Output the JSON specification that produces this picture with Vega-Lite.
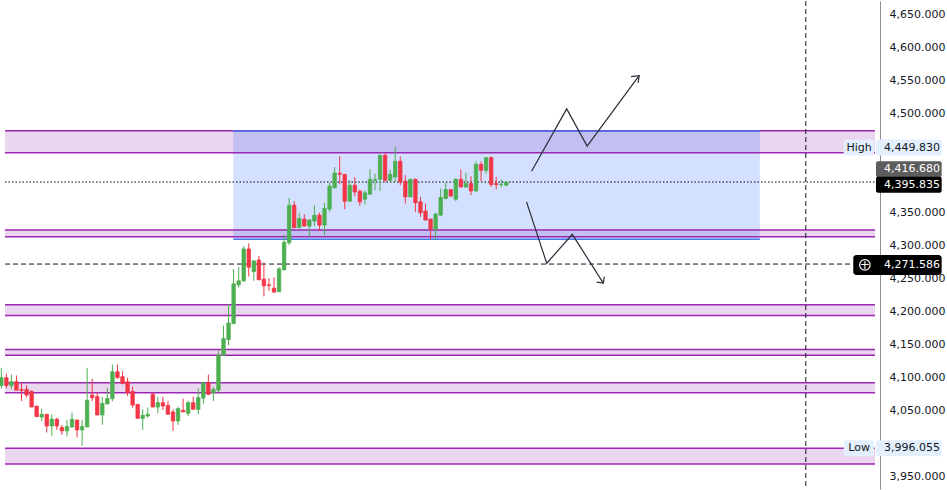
{
  "$schema": "https://vega.github.io/schema/vega-lite/v6.json",
  "width": 947,
  "height": 490,
  "autosize": {"type": "fit", "contains": "padding"},
  "padding": 0,
  "background": "#ffffff",
  "config": {"view": {"stroke": null}, "font": "DejaVu Sans", "axisX": {"disable": true}},
  "datasets": {
    "candles": [
      {"i":0,"o":4087.7,"h":4114.4,"l":4082.8,"c":4099.4},
      {"i":1,"o":4099.4,"h":4105.9,"l":4083.7,"c":4087.7},
      {"i":2,"o":4087.7,"h":4104.3,"l":4081.7,"c":4093.3},
      {"i":3,"o":4093.3,"h":4102.8,"l":4080.6,"c":4080.6},
      {"i":4,"o":4081.3,"h":4091.8,"l":4064.1,"c":4080.2},
      {"i":5,"o":4081.7,"h":4087.7,"l":4069.2,"c":4073.1},
      {"i":6,"o":4078.7,"h":4080.2,"l":4055.0,"c":4055.0},
      {"i":7,"o":4056.1,"h":4057.6,"l":4040.5,"c":4040.5},
      {"i":8,"o":4039.9,"h":4052.6,"l":4033.9,"c":4044.0},
      {"i":9,"o":4044.0,"h":4044.0,"l":4016.4,"c":4026.3},
      {"i":10,"o":4026.3,"h":4044.0,"l":4011.3,"c":4036.5},
      {"i":11,"o":4036.5,"h":4039.0,"l":4020.3,"c":4026.3},
      {"i":12,"o":4023.9,"h":4027.9,"l":4012.8,"c":4018.8},
      {"i":13,"o":4018.8,"h":4035.4,"l":4010.3,"c":4025.4},
      {"i":14,"o":4024.8,"h":4046.6,"l":4023.9,"c":4036.5},
      {"i":15,"o":4035.4,"h":4035.4,"l":4008.8,"c":4020.3},
      {"i":16,"o":4020.3,"h":4035.4,"l":3996.1,"c":4025.4},
      {"i":17,"o":4024.8,"h":4114.4,"l":4024.8,"c":4065.1},
      {"i":18,"o":4073.1,"h":4097.9,"l":4064.1,"c":4069.2},
      {"i":19,"o":4070.7,"h":4076.7,"l":4042.9,"c":4042.9},
      {"i":20,"o":4042.9,"h":4070.7,"l":4027.9,"c":4060.6},
      {"i":21,"o":4059.5,"h":4084.3,"l":4059.5,"c":4068.1},
      {"i":22,"o":4067.7,"h":4119.4,"l":4063.6,"c":4108.4},
      {"i":23,"o":4108.4,"h":4119.4,"l":4098.3,"c":4099.4},
      {"i":24,"o":4100.9,"h":4109.3,"l":4089.2,"c":4090.8},
      {"i":25,"o":4093.3,"h":4099.4,"l":4071.6,"c":4076.7},
      {"i":26,"o":4078.7,"h":4085.8,"l":4054.1,"c":4058.0},
      {"i":27,"o":4059.1,"h":4059.1,"l":4037.9,"c":4037.9},
      {"i":28,"o":4037.9,"h":4051.5,"l":4020.3,"c":4042.5},
      {"i":29,"o":4041.4,"h":4054.1,"l":4039.0,"c":4044.0},
      {"i":30,"o":4074.2,"h":4076.7,"l":4055.0,"c":4055.0},
      {"i":31,"o":4055.0,"h":4070.7,"l":4045.5,"c":4061.6},
      {"i":32,"o":4061.6,"h":4070.7,"l":4050.5,"c":4056.5},
      {"i":33,"o":4057.6,"h":4064.1,"l":4044.0,"c":4044.0},
      {"i":34,"o":4047.5,"h":4051.5,"l":4018.8,"c":4033.9},
      {"i":35,"o":4033.9,"h":4055.6,"l":4027.9,"c":4052.6},
      {"i":36,"o":4050.0,"h":4067.7,"l":4047.5,"c":4047.5},
      {"i":37,"o":4045.5,"h":4064.1,"l":4041.4,"c":4061.6},
      {"i":38,"o":4061.6,"h":4070.7,"l":4051.5,"c":4051.5},
      {"i":39,"o":4051.5,"h":4083.2,"l":4044.0,"c":4069.2},
      {"i":40,"o":4068.6,"h":4091.8,"l":4060.1,"c":4091.8},
      {"i":41,"o":4091.8,"h":4104.3,"l":4073.1,"c":4074.2},
      {"i":42,"o":4076.7,"h":4085.2,"l":4064.1,"c":4081.7},
      {"i":43,"o":4080.6,"h":4141.0,"l":4076.7,"c":4133.4},
      {"i":44,"o":4133.4,"h":4178.3,"l":4133.4,"c":4158.6},
      {"i":45,"o":4157.1,"h":4211.5,"l":4148.6,"c":4182.3},
      {"i":46,"o":4181.3,"h":4263.8,"l":4181.3,"c":4241.6},
      {"i":47,"o":4240.1,"h":4266.8,"l":4236.0,"c":4246.2},
      {"i":48,"o":4246.2,"h":4298.9,"l":4244.6,"c":4294.4},
      {"i":49,"o":4294.4,"h":4303.0,"l":4252.6,"c":4266.8},
      {"i":50,"o":4260.2,"h":4277.8,"l":4246.2,"c":4276.3},
      {"i":51,"o":4277.8,"h":4283.9,"l":4247.7,"c":4247.7},
      {"i":52,"o":4248.7,"h":4274.4,"l":4222.5,"c":4238.6},
      {"i":53,"o":4240.1,"h":4250.2,"l":4231.1,"c":4239.1},
      {"i":54,"o":4235.1,"h":4251.7,"l":4227.6,"c":4229.1},
      {"i":55,"o":4229.6,"h":4266.8,"l":4229.6,"c":4264.3},
      {"i":56,"o":4262.8,"h":4315.5,"l":4261.7,"c":4304.5},
      {"i":57,"o":4303.9,"h":4371.8,"l":4300.5,"c":4360.8},
      {"i":58,"o":4360.8,"h":4366.8,"l":4326.6,"c":4326.6},
      {"i":59,"o":4326.6,"h":4349.2,"l":4326.6,"c":4340.7},
      {"i":60,"o":4339.7,"h":4347.2,"l":4329.1,"c":4329.1},
      {"i":61,"o":4329.1,"h":4339.7,"l":4313.0,"c":4338.2},
      {"i":62,"o":4336.7,"h":4360.8,"l":4329.1,"c":4345.7},
      {"i":63,"o":4345.7,"h":4349.2,"l":4322.0,"c":4330.6},
      {"i":64,"o":4330.6,"h":4364.3,"l":4315.5,"c":4355.8},
      {"i":65,"o":4354.8,"h":4394.4,"l":4350.7,"c":4389.9},
      {"i":66,"o":4386.9,"h":4418.6,"l":4386.9,"c":4409.5},
      {"i":67,"o":4409.1,"h":4434.7,"l":4392.5,"c":4407.6},
      {"i":68,"o":4407.6,"h":4407.6,"l":4354.8,"c":4366.8},
      {"i":69,"o":4366.8,"h":4398.5,"l":4366.8,"c":4391.0},
      {"i":70,"o":4391.0,"h":4403.5,"l":4374.4,"c":4380.9},
      {"i":71,"o":4381.9,"h":4384.5,"l":4359.7,"c":4365.8},
      {"i":72,"o":4369.8,"h":4383.4,"l":4361.8,"c":4379.4},
      {"i":73,"o":4377.4,"h":4415.1,"l":4377.4,"c":4400.0},
      {"i":74,"o":4398.5,"h":4408.6,"l":4383.4,"c":4399.6},
      {"i":75,"o":4400.0,"h":4437.8,"l":4382.4,"c":4436.2},
      {"i":76,"o":4436.2,"h":4440.3,"l":4396.0,"c":4398.5},
      {"i":77,"o":4398.5,"h":4414.7,"l":4396.0,"c":4407.6},
      {"i":78,"o":4403.5,"h":4449.8,"l":4396.0,"c":4427.2},
      {"i":79,"o":4427.2,"h":4434.7,"l":4391.0,"c":4396.0},
      {"i":80,"o":4397.0,"h":4406.1,"l":4363.4,"c":4373.3},
      {"i":81,"o":4373.3,"h":4400.0,"l":4373.3,"c":4400.0},
      {"i":82,"o":4400.0,"h":4401.1,"l":4350.7,"c":4364.3},
      {"i":83,"o":4365.8,"h":4373.3,"l":4343.1,"c":4349.2},
      {"i":84,"o":4351.8,"h":4363.4,"l":4338.2,"c":4338.2},
      {"i":85,"o":4339.7,"h":4339.7,"l":4309.5,"c":4324.5},
      {"i":86,"o":4324.5,"h":4349.2,"l":4309.5,"c":4347.2},
      {"i":87,"o":4345.7,"h":4386.0,"l":4344.2,"c":4372.4},
      {"i":88,"o":4370.9,"h":4395.1,"l":4369.8,"c":4384.5},
      {"i":89,"o":4384.5,"h":4384.5,"l":4374.4,"c":4374.4},
      {"i":90,"o":4369.8,"h":4401.1,"l":4366.8,"c":4400.0},
      {"i":91,"o":4400.0,"h":4414.7,"l":4386.9,"c":4388.4},
      {"i":92,"o":4388.4,"h":4410.1,"l":4386.9,"c":4393.5},
      {"i":93,"o":4393.5,"h":4404.5,"l":4375.9,"c":4382.4},
      {"i":94,"o":4382.4,"h":4427.2,"l":4380.9,"c":4422.7},
      {"i":95,"o":4422.7,"h":4427.2,"l":4397.0,"c":4413.6},
      {"i":96,"o":4413.6,"h":4432.8,"l":4408.6,"c":4432.8},
      {"i":97,"o":4432.8,"h":4434.7,"l":4388.4,"c":4392.0},
      {"i":98,"o":4393.5,"h":4403.5,"l":4384.9,"c":4392.0},
      {"i":99,"o":4392.0,"h":4399.6,"l":4387.5,"c":4392.5},
      {"i":100,"o":4391.0,"h":4397.5,"l":4389.9,"c":4395.8}
    ],
    "bands": [
      {"top":4473.5,"bot":4440.3},
      {"top":4323.1,"bot":4313.0},
      {"top":4209.9,"bot":4193.8},
      {"top":4142.1,"bot":4133.4},
      {"top":4091.8,"bot":4076.7},
      {"top":3992.7,"bot":3968.5}
    ],
    "zone": [{"t0":45.94,"t1":150.2,"top":4472.9,"bot":4309.1}],
    "arrows": [
      {"seg":"up","k":0,"i":105.0,"p":4412.1},
      {"seg":"up","k":1,"i":111.96,"p":4506.7},
      {"seg":"up","k":2,"i":116.0,"p":4450.3},
      {"seg":"up","k":3,"i":126.3,"p":4556.9},
      {"seg":"upHead","k":0,"i":124.7,"p":4555.4},
      {"seg":"upHead","k":1,"i":126.3,"p":4556.9},
      {"seg":"upHead","k":2,"i":126.1,"p":4545.9},
      {"seg":"down","k":0,"i":104.0,"p":4365.8},
      {"seg":"down","k":1,"i":108.0,"p":4272.8},
      {"seg":"down","k":2,"i":113.07,"p":4316.6},
      {"seg":"down","k":3,"i":119.2,"p":4242.7},
      {"seg":"downHead","k":0,"i":117.9,"p":4244.2},
      {"seg":"downHead","k":1,"i":119.2,"p":4242.7},
      {"seg":"downHead","k":2,"i":119.4,"p":4252.6}
    ],
    "tags": [
      {"kind":"high","p":4448.0,"lbl":"4,449.830","name":"High"},
      {"kind":"prev","p":4415.1,"lbl":"4,416.680"},
      {"kind":"last","p":4391.7,"lbl":"4,395.835"},
      {"kind":"cross","p":4270.3,"lbl":"4,271.586"},
      {"kind":"low","p":3992.4,"lbl":"3,996.055","name":"Low"}
    ]
  },
  "layer": [
    {
      "data": {"name": "candles"},
      "mark": {"type": "rule", "strokeWidth": 1, "opacity": 0, "clip": true},
      "encoding": {
        "y": {
          "field": "l", "type": "quantitative",
          "scale": {"domain": [3938.39, 4662.52], "zero": false, "nice": false},
          "axis": {
            "orient": "right", "offset": -67, "title": null, "values": [4650, 4600, 4550, 4500, 4350, 4300, 4250, 4200, 4150, 4100, 4050, 3950],
            "format": ",.3f", "ticks": false, "grid": false, "domainColor": "#8c8f98", "domainWidth": 1,
            "labelPadding": 9, "labelFont": "DejaVu Sans", "labelFontSize": 11, "labelColor": "#131722", "labelAlign": "left"
          }
        }
      }
    },
    {
      "data": {"name": "bands"},
      "mark": {"type": "rect", "color": "#ead6ef"},
      "encoding": {
        "x": {"datum": 0.733, "type": "quantitative", "scale": {"domain": [0.733, 186.27]}},
        "x2": {"datum": 173.0},
        "y": {"field": "top", "type": "quantitative", "title": null, "scale": {"domain": [3938.39, 4662.52], "zero": false, "nice": false}},
        "y2": {"field": "bot"}
      }
    },
    {
      "data": {"name": "zone"},
      "mark": {"type": "rect", "color": "#2962ff", "opacity": 0.2},
      "encoding": {
        "x": {"field": "t0", "type": "quantitative", "scale": {"domain": [0.733, 186.27]}},
        "x2": {"field": "t1"},
        "y": {"field": "top", "type": "quantitative", "title": null, "scale": {"domain": [3938.39, 4662.52], "zero": false, "nice": false}},
        "y2": {"field": "bot"}
      }
    },
    {
      "data": {"name": "bands"},
      "mark": {"type": "rule", "color": "#9c27b0", "strokeWidth": 1.5},
      "encoding": {
        "x": {"datum": 0.733, "type": "quantitative", "scale": {"domain": [0.733, 186.27]}},
        "x2": {"datum": 173.0},
        "y": {"field": "top", "type": "quantitative", "title": null, "scale": {"domain": [3938.39, 4662.52], "zero": false, "nice": false}}
      }
    },
    {
      "data": {"name": "bands"},
      "mark": {"type": "rule", "color": "#9c27b0", "strokeWidth": 1.5},
      "encoding": {
        "x": {"datum": 0.733, "type": "quantitative", "scale": {"domain": [0.733, 186.27]}},
        "x2": {"datum": 173.0},
        "y": {"field": "bot", "type": "quantitative", "title": null, "scale": {"domain": [3938.39, 4662.52], "zero": false, "nice": false}}
      }
    },
    {
      "data": {"name": "zone"},
      "mark": {"type": "rule", "color": "#4b7bec", "strokeWidth": 1.5},
      "encoding": {
        "x": {"field": "t0", "type": "quantitative", "scale": {"domain": [0.733, 186.27]}},
        "x2": {"field": "t1"},
        "y": {"field": "top", "type": "quantitative", "title": null, "scale": {"domain": [3938.39, 4662.52], "zero": false, "nice": false}}
      }
    },
    {
      "data": {"name": "zone"},
      "mark": {"type": "rule", "color": "#4b7bec", "strokeWidth": 1.5},
      "encoding": {
        "x": {"field": "t0", "type": "quantitative", "scale": {"domain": [0.733, 186.27]}},
        "x2": {"field": "t1"},
        "y": {"field": "bot", "type": "quantitative", "title": null, "scale": {"domain": [3938.39, 4662.52], "zero": false, "nice": false}}
      }
    },
    {
      "data": {"values": [{}]},
      "mark": {"type": "rule", "color": "#000000", "strokeWidth": 1, "strokeDash": [1.5, 2]},
      "encoding": {
        "x": {"datum": 0.733, "type": "quantitative", "scale": {"domain": [0.733, 186.27]}},
        "x2": {"datum": 173.0},
        "y": {"datum": 4395.835, "type": "quantitative", "title": null, "scale": {"domain": [3938.39, 4662.52], "zero": false, "nice": false}}
      }
    },
    {
      "data": {"values": [{}]},
      "mark": {"type": "rule", "color": "#131722", "strokeWidth": 1, "strokeDash": [5, 3]},
      "encoding": {
        "x": {"datum": 0.74, "type": "quantitative", "scale": {"domain": [0.733, 186.27]}},
        "x2": {"datum": 168.7},
        "y": {"datum": 4271.586, "type": "quantitative", "title": null, "scale": {"domain": [3938.39, 4662.52], "zero": false, "nice": false}}
      }
    },
    {
      "data": {"values": [{}]},
      "mark": {"type": "rule", "color": "#131722", "strokeWidth": 1, "strokeDash": [5, 3]},
      "encoding": {
        "x": {"datum": 159.3, "type": "quantitative", "scale": {"domain": [0.733, 186.27]}}
      }
    },
    {
      "data": {"name": "candles"},
      "mark": {"type": "rule", "strokeWidth": 1, "clip": true},
      "encoding": {
        "x": {"field": "i", "type": "quantitative", "scale": {"domain": [0.733, 186.27]}},
        "y": {"field": "l", "type": "quantitative", "title": null, "scale": {"domain": [3938.39, 4662.52], "zero": false, "nice": false}},
        "y2": {"field": "h"},
        "color": {"condition": {"test": "datum.c >= datum.o", "value": "#4caf50"}, "value": "#f23645"}
      }
    },
    {
      "data": {"name": "candles"},
      "mark": {"type": "bar", "width": 3.4, "strokeWidth": 0.8, "clip": true},
      "encoding": {
        "x": {"field": "i", "type": "quantitative", "scale": {"domain": [0.733, 186.27]}},
        "y": {"field": "o", "type": "quantitative", "title": null, "scale": {"domain": [3938.39, 4662.52], "zero": false, "nice": false}},
        "y2": {"field": "c"},
        "color": {"condition": {"test": "datum.c >= datum.o", "value": "#4caf50"}, "value": "#f23645"},
        "stroke": {"condition": {"test": "datum.c >= datum.o", "value": "#4caf50"}, "value": "#f23645"}
      }
    },
    {
      "data": {"name": "arrows"},
      "mark": {"type": "line", "color": "#2a2e39", "strokeWidth": 1.2},
      "encoding": {
        "x": {"field": "i", "type": "quantitative", "scale": {"domain": [0.733, 186.27]}},
        "y": {"field": "p", "type": "quantitative", "title": null, "scale": {"domain": [3938.39, 4662.52], "zero": false, "nice": false}},
        "detail": {"field": "seg"},
        "order": {"field": "k"}
      }
    },
    {
      "data": {"name": "tags"},
      "transform": [{"filter": "datum.kind != 'cross'"}],
      "mark": {"type": "bar", "height": 16, "cornerRadius": 2},
      "encoding": {
        "x": {"datum": 173.2, "type": "quantitative", "scale": {"domain": [0.733, 186.27]}},
        "x2": {"datum": 186.2},
        "y": {"field": "p", "type": "quantitative", "title": null, "scale": {"domain": [3938.39, 4662.52], "zero": false, "nice": false}},
        "color": {"condition": [{"test": "datum.kind == 'high' || datum.kind == 'low'", "value": "#e3effd"}, {"test": "datum.kind == 'prev'", "value": "#5d5d5d"}], "value": "#000000"}
      }
    },
    {
      "data": {"name": "tags"},
      "transform": [{"filter": "isValid(datum.name)"}],
      "mark": {"type": "bar", "height": 16, "cornerRadius": 2, "color": "#e3effd"},
      "encoding": {
        "x": {"datum": 166.8, "type": "quantitative", "scale": {"domain": [0.733, 186.27]}},
        "x2": {"datum": 172.8},
        "y": {"field": "p", "type": "quantitative", "title": null, "scale": {"domain": [3938.39, 4662.52], "zero": false, "nice": false}}
      }
    },
    {
      "data": {"name": "tags"},
      "transform": [{"filter": "datum.kind == 'cross'"}],
      "mark": {"type": "bar", "height": 20, "cornerRadius": 3, "color": "#000000"},
      "encoding": {
        "x": {"datum": 168.7, "type": "quantitative", "scale": {"domain": [0.733, 186.27]}},
        "x2": {"datum": 186.2},
        "y": {"field": "p", "type": "quantitative", "title": null, "scale": {"domain": [3938.39, 4662.52], "zero": false, "nice": false}}
      }
    },
    {
      "data": {"name": "tags"},
      "mark": {"type": "text", "align": "left", "baseline": "middle", "fontSize": 11, "font": "DejaVu Sans"},
      "encoding": {
        "x": {"datum": 174.8, "type": "quantitative", "scale": {"domain": [0.733, 186.27]}},
        "y": {"field": "p", "type": "quantitative", "title": null, "scale": {"domain": [3938.39, 4662.52], "zero": false, "nice": false}},
        "text": {"field": "lbl"},
        "color": {"condition": {"test": "datum.kind == 'high' || datum.kind == 'low'", "value": "#131722"}, "value": "#ffffff"}
      }
    },
    {
      "data": {"name": "tags"},
      "transform": [{"filter": "isValid(datum.name)"}],
      "mark": {"type": "text", "align": "center", "baseline": "middle", "fontSize": 11, "font": "DejaVu Sans", "color": "#131722"},
      "encoding": {
        "x": {"datum": 169.85, "type": "quantitative", "scale": {"domain": [0.733, 186.27]}},
        "y": {"field": "p", "type": "quantitative", "title": null, "scale": {"domain": [3938.39, 4662.52], "zero": false, "nice": false}},
        "text": {"field": "name"}
      }
    },
    {
      "data": {"name": "tags"},
      "transform": [{"filter": "datum.kind == 'cross'"}],
      "mark": {"type": "point", "shape": "circle", "filled": false, "size": 110, "stroke": "#ffffff", "strokeWidth": 1.2, "opacity": 1},
      "encoding": {
        "x": {"datum": 171.0, "type": "quantitative", "scale": {"domain": [0.733, 186.27]}},
        "y": {"field": "p", "type": "quantitative", "title": null, "scale": {"domain": [3938.39, 4662.52], "zero": false, "nice": false}}
      }
    },
    {
      "data": {"name": "tags"},
      "transform": [{"filter": "datum.kind == 'cross'"}],
      "mark": {"type": "text", "text": "+", "align": "center", "baseline": "middle", "fontSize": 12, "color": "#ffffff"},
      "encoding": {
        "x": {"datum": 171.0, "type": "quantitative", "scale": {"domain": [0.733, 186.27]}},
        "y": {"field": "p", "type": "quantitative", "title": null, "scale": {"domain": [3938.39, 4662.52], "zero": false, "nice": false}}
      }
    }
  ]
}
